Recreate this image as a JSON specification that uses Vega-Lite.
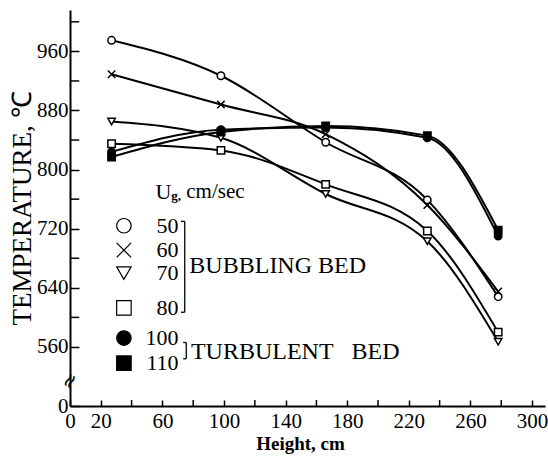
{
  "$schema": "https://vega.github.io/schema/vega-lite/v6.json",
  "width": 475,
  "height": 396,
  "autosize": {"type": "none"},
  "padding": {"left": 70, "top": 10, "right": 3, "bottom": 59},
  "background": "white",
  "config": {
    "view": {"stroke": null},
    "font": "Liberation Serif",
    "axis": {
      "grid": false,
      "domainColor": "black",
      "domainWidth": 2,
      "tickColor": "black",
      "tickWidth": 1.5,
      "labelColor": "black",
      "labelFont": "Liberation Serif",
      "titleFont": "Liberation Serif",
      "titleColor": "black"
    }
  },
  "datasets": {
    "main": [
      {"h": 27, "t": 975, "ug": "50"}, {"h": 98, "t": 927, "ug": "50"}, {"h": 166, "t": 837, "ug": "50"}, {"h": 232, "t": 759, "ug": "50"}, {"h": 278, "t": 628, "ug": "50"},
      {"h": 27, "t": 929, "ug": "60"}, {"h": 98, "t": 888, "ug": "60"}, {"h": 166, "t": 848, "ug": "60"}, {"h": 232, "t": 752, "ug": "60"}, {"h": 278, "t": 635, "ug": "60"},
      {"h": 27, "t": 865, "ug": "70"}, {"h": 98, "t": 843, "ug": "70"}, {"h": 166, "t": 767, "ug": "70"}, {"h": 232, "t": 703, "ug": "70"}, {"h": 278, "t": 567, "ug": "70"},
      {"h": 27, "t": 835, "ug": "80"}, {"h": 98, "t": 826, "ug": "80"}, {"h": 166, "t": 780, "ug": "80"}, {"h": 232, "t": 717, "ug": "80"}, {"h": 278, "t": 580, "ug": "80"},
      {"h": 27, "t": 824, "ug": "100"}, {"h": 98, "t": 854, "ug": "100"}, {"h": 166, "t": 857, "ug": "100"}, {"h": 232, "t": 843, "ug": "100"}, {"h": 278, "t": 710, "ug": "100"},
      {"h": 27, "t": 817, "ug": "110"}, {"h": 98, "t": 851, "ug": "110"}, {"h": 166, "t": 859, "ug": "110"}, {"h": 232, "t": 846, "ug": "110"}, {"h": 278, "t": 718, "ug": "110"}
    ],
    "legsym": [
      {"h": 35, "t": 724, "ug": "50"},
      {"h": 35, "t": 691, "ug": "60"},
      {"h": 35, "t": 660, "ug": "70"},
      {"h": 35, "t": 613, "ug": "80"},
      {"h": 35, "t": 572, "ug": "100"},
      {"h": 35, "t": 538, "ug": "110"}
    ],
    "leglab": [
      {"h": 70.5, "t": 724, "label": "50"},
      {"h": 70.5, "t": 691, "label": "60"},
      {"h": 70.5, "t": 660, "label": "70"},
      {"h": 70.5, "t": 613, "label": "80"},
      {"h": 70.5, "t": 572, "label": "100"},
      {"h": 70.5, "t": 538, "label": "110"}
    ],
    "groups": [
      {"h": 77.5, "t": 670, "label": "BUBBLING BED"},
      {"h": 78.5, "t": 553, "label": "TURBULENT\u00a0\u00a0\u00a0BED"}
    ],
    "vbrackets": [
      {"h": 74.5, "t": 730, "t2": 607},
      {"h": 75.5, "t": 566, "t2": 544}
    ],
    "hbrackets": [
      {"h": 72, "h2": 74.5, "t": 730},
      {"h": 72, "h2": 74.5, "t": 607},
      {"h": 73.5, "h2": 75.5, "t": 566},
      {"h": 73.5, "h2": 75.5, "t": 544}
    ],
    "yminor": [
      {"h": 0, "h2": 6, "t": 600},
      {"h": 0, "h2": 6, "t": 680},
      {"h": 0, "h2": 6, "t": 760},
      {"h": 0, "h2": 6, "t": 840},
      {"h": 0, "h2": 6, "t": 920},
      {"h": 0, "h2": 6, "t": 1000}
    ],
    "xminor": [
      {"h": 40, "t": 0, "t2": 105},
      {"h": 80, "t": 0, "t2": 105},
      {"h": 120, "t": 0, "t2": 105},
      {"h": 160, "t": 0, "t2": 105},
      {"h": 200, "t": 0, "t2": 105},
      {"h": 240, "t": 0, "t2": 105},
      {"h": 280, "t": 0, "t2": 105}
    ]
  },
  "layer": [
    {
      "data": {"name": "main"},
      "mark": {"type": "line", "interpolate": "monotone", "color": "black", "strokeWidth": 2},
      "encoding": {
        "x": {"field": "h", "type": "quantitative", "title": "Height, cm",
          "scale": {"domain": [0, 308.4], "nice": false, "zero": false},
          "axis": {
            "values": [0, 20, 60, 100, 140, 180, 220, 260, 300],
            "tickSize": -6,
            "labelPadding": 10,
            "labelFontSize": 21,
            "labelFlush": false,
            "labelOverlap": false,
            "titleFontSize": 19,
            "titleFontWeight": "bold",
            "titlePadding": 3,
            "titleX": 230
          }
        },
        "y": {"field": "t", "type": "quantitative", "title": "TEMPERATURE, ℃",
          "scale": {"domain": [0, 520, 1016], "range": [396, 366.5, 0], "nice": false, "zero": false},
          "axis": {
            "values": [0, 560, 640, 720, 800, 880, 960],
            "tickSize": -9,
            "labelPadding": 11,
            "labelFontSize": 21,
            "labelFlush": false,
            "labelOverlap": false,
            "titleFontSize": 27,
            "titleFontWeight": "normal",
            "titlePadding": 0
          }
        },
        "detail": {"field": "ug", "type": "nominal"}
      }
    },
    {
      "data": {"name": "yminor"},
      "mark": {"type": "rule", "color": "black", "strokeWidth": 1.5},
      "encoding": {
        "x": {"field": "h", "type": "quantitative", "title": "Height, cm", "scale": {"domain": [0, 308.4], "nice": false, "zero": false}},
        "x2": {"field": "h2"},
        "y": {"field": "t", "type": "quantitative", "title": "TEMPERATURE, ℃", "scale": {"domain": [0, 520, 1016], "range": [396, 366.5, 0], "nice": false, "zero": false}}
      }
    },
    {
      "data": {"name": "xminor"},
      "mark": {"type": "rule", "color": "black", "strokeWidth": 1.5},
      "encoding": {
        "x": {"field": "h", "type": "quantitative", "title": "Height, cm", "scale": {"domain": [0, 308.4], "nice": false, "zero": false}},
        "y": {"field": "t", "type": "quantitative", "title": "TEMPERATURE, ℃", "scale": {"domain": [0, 520, 1016], "range": [396, 366.5, 0], "nice": false, "zero": false}},
        "y2": {"field": "t2"}
      }
    },
    {
      "data": {"name": "main"},
      "mark": {"type": "point", "stroke": "black", "strokeWidth": 1.5, "opacity": 1, "size": 55},
      "encoding": {
        "x": {"field": "h", "type": "quantitative", "title": "Height, cm", "scale": {"domain": [0, 308.4], "nice": false, "zero": false}},
        "y": {"field": "t", "type": "quantitative", "title": "TEMPERATURE, ℃", "scale": {"domain": [0, 520, 1016], "range": [396, 366.5, 0], "nice": false, "zero": false}},
        "shape": {"field": "ug", "type": "nominal", "legend": null,
          "scale": {"domain": ["50", "60", "70", "80", "100", "110"], "range": ["circle", "M-1,-1L1,1M1,-1L-1,1", "triangle-down", "square", "circle", "square"]}},
        "fill": {"field": "ug", "type": "nominal", "legend": null,
          "scale": {"domain": ["50", "60", "70", "80", "100", "110"], "range": ["white", "white", "white", "white", "black", "black"]}}
      }
    },
    {
      "data": {"name": "legsym"},
      "mark": {"type": "point", "stroke": "black", "strokeWidth": 1.2, "opacity": 1, "size": 210},
      "encoding": {
        "x": {"field": "h", "type": "quantitative", "title": "Height, cm", "scale": {"domain": [0, 308.4], "nice": false, "zero": false}},
        "y": {"field": "t", "type": "quantitative", "title": "TEMPERATURE, ℃", "scale": {"domain": [0, 520, 1016], "range": [396, 366.5, 0], "nice": false, "zero": false}},
        "shape": {"field": "ug", "type": "nominal", "legend": null},
        "fill": {"field": "ug", "type": "nominal", "legend": null}
      }
    },
    {
      "data": {"name": "leglab"},
      "mark": {"type": "text", "align": "right", "baseline": "middle", "fontSize": 22, "color": "black", "font": "Liberation Serif"},
      "encoding": {
        "x": {"field": "h", "type": "quantitative", "title": "Height, cm", "scale": {"domain": [0, 308.4], "nice": false, "zero": false}},
        "y": {"field": "t", "type": "quantitative", "title": "TEMPERATURE, ℃", "scale": {"domain": [0, 520, 1016], "range": [396, 366.5, 0], "nice": false, "zero": false}},
        "text": {"field": "label"}
      }
    },
    {
      "data": {"name": "groups"},
      "mark": {"type": "text", "align": "left", "baseline": "middle", "fontSize": 24, "color": "black", "font": "Liberation Serif"},
      "encoding": {
        "x": {"field": "h", "type": "quantitative", "title": "Height, cm", "scale": {"domain": [0, 308.4], "nice": false, "zero": false}},
        "y": {"field": "t", "type": "quantitative", "title": "TEMPERATURE, ℃", "scale": {"domain": [0, 520, 1016], "range": [396, 366.5, 0], "nice": false, "zero": false}},
        "text": {"field": "label"}
      }
    },
    {
      "data": {"name": "vbrackets"},
      "mark": {"type": "rule", "color": "black", "strokeWidth": 1.3},
      "encoding": {
        "x": {"field": "h", "type": "quantitative", "title": "Height, cm", "scale": {"domain": [0, 308.4], "nice": false, "zero": false}},
        "y": {"field": "t", "type": "quantitative", "title": "TEMPERATURE, ℃", "scale": {"domain": [0, 520, 1016], "range": [396, 366.5, 0], "nice": false, "zero": false}},
        "y2": {"field": "t2"}
      }
    },
    {
      "data": {"name": "hbrackets"},
      "mark": {"type": "rule", "color": "black", "strokeWidth": 1.3},
      "encoding": {
        "x": {"field": "h", "type": "quantitative", "title": "Height, cm", "scale": {"domain": [0, 308.4], "nice": false, "zero": false}},
        "x2": {"field": "h2"},
        "y": {"field": "t", "type": "quantitative", "title": "TEMPERATURE, ℃", "scale": {"domain": [0, 520, 1016], "range": [396, 366.5, 0], "nice": false, "zero": false}}
      }
    },
    {
      "data": {"values": [{"h": 55.5, "t": 770, "s": "U"}]},
      "mark": {"type": "text", "align": "left", "baseline": "middle", "fontSize": 22, "color": "black", "font": "Liberation Serif"},
      "encoding": {
        "x": {"field": "h", "type": "quantitative", "title": "Height, cm", "scale": {"domain": [0, 308.4], "nice": false, "zero": false}},
        "y": {"field": "t", "type": "quantitative", "title": "TEMPERATURE, ℃", "scale": {"domain": [0, 520, 1016], "range": [396, 366.5, 0], "nice": false, "zero": false}},
        "text": {"field": "s"}
      }
    },
    {
      "data": {"values": [{"h": 65.8, "t": 764, "s": "g,"}]},
      "mark": {"type": "text", "align": "left", "baseline": "middle", "fontSize": 13, "fontWeight": "bold", "color": "black", "font": "Liberation Serif"},
      "encoding": {
        "x": {"field": "h", "type": "quantitative", "title": "Height, cm", "scale": {"domain": [0, 308.4], "nice": false, "zero": false}},
        "y": {"field": "t", "type": "quantitative", "title": "TEMPERATURE, ℃", "scale": {"domain": [0, 520, 1016], "range": [396, 366.5, 0], "nice": false, "zero": false}},
        "text": {"field": "s"}
      }
    },
    {
      "data": {"values": [{"h": 75.5, "t": 770, "s": "cm/sec"}]},
      "mark": {"type": "text", "align": "left", "baseline": "middle", "fontSize": 21, "color": "black", "font": "Liberation Serif"},
      "encoding": {
        "x": {"field": "h", "type": "quantitative", "title": "Height, cm", "scale": {"domain": [0, 308.4], "nice": false, "zero": false}},
        "y": {"field": "t", "type": "quantitative", "title": "TEMPERATURE, ℃", "scale": {"domain": [0, 520, 1016], "range": [396, 366.5, 0], "nice": false, "zero": false}},
        "text": {"field": "s"}
      }
    },
    {
      "data": {"values": [{"h": 0, "t": 440, "s": "≈"}]},
      "mark": {"type": "text", "align": "center", "baseline": "middle", "fontSize": 20, "angle": -60, "color": "black", "font": "DejaVu Sans"},
      "encoding": {
        "x": {"field": "h", "type": "quantitative", "title": "Height, cm", "scale": {"domain": [0, 308.4], "nice": false, "zero": false}},
        "y": {"field": "t", "type": "quantitative", "title": "TEMPERATURE, ℃", "scale": {"domain": [0, 520, 1016], "range": [396, 366.5, 0], "nice": false, "zero": false}},
        "text": {"field": "s"}
      }
    }
  ]
}
